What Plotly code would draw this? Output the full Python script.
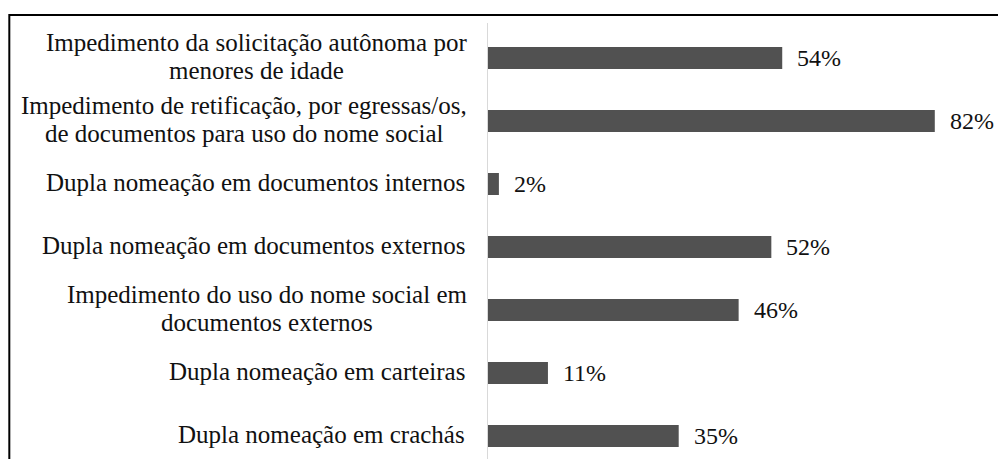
import plotly.graph_objects as go

categories = [
    "Impedimento da solicitação autônoma por<br>menores de idade",
    "Impedimento de retificação, por egressas/os,<br>de documentos para uso do nome social",
    "Dupla nomeação em documentos internos",
    "Dupla nomeação em documentos externos",
    "Impedimento do uso do nome social em<br>documentos externos",
    "Dupla nomeação em carteiras",
    "Dupla nomeação em crachás",
]
values = [54, 82, 2, 52, 46, 11, 35]
value_labels = [f"{v}%" for v in values]

FONT = "Liberation Serif, Times New Roman, serif"
LABEL_SIZE = 25
BAR_COLOR = "#515151"
TEXT_COLOR = "#111111"

# Times / Liberation Serif advance widths (1/1000 em) used to centre wrapped lines
_W = {" ": 250, ",": 250, "/": 278, "%": 833, "I": 333, "D": 722,
      "a": 444, "b": 500, "c": 444, "d": 500, "e": 444, "f": 333, "g": 500,
      "h": 500, "i": 278, "j": 278, "k": 500, "l": 278, "m": 778, "n": 500,
      "o": 500, "p": 500, "q": 500, "r": 333, "s": 389, "t": 278, "u": 500,
      "v": 500, "w": 722, "x": 500, "y": 500, "z": 444,
      "ç": 444, "ã": 444, "â": 444, "á": 444, "é": 444, "ê": 444, "í": 278,
      "ó": 500, "ô": 500, "õ": 500, "ú": 500}


def text_width(s, size):
    return sum(_W.get(c, 500) for c in s) * size / 1000.0


fig = go.Figure()
fig.add_trace(go.Bar(
    x=values, y=categories, orientation="h",
    marker=dict(color=BAR_COLOR, line=dict(width=0)),
    width=0.35, hoverinfo="skip",
))

annotations = []
GAP = 21          # gap between label block and axis
LINE_STEP = 28    # line spacing of wrapped labels
for cat, v, lab in zip(categories, values, value_labels):
    lines = cat.split("<br>")
    n = len(lines)
    widest = max(text_width(l, LABEL_SIZE) for l in lines)
    center_shift = -GAP - widest / 2.0
    for i, ln in enumerate(lines):
        yshift = 2 + ((n - 1) / 2.0 - i) * LINE_STEP
        if n == 1:
            annotations.append(dict(
                x=0, y=cat, xref="x", yref="y", text=ln, showarrow=False,
                xanchor="right", yanchor="middle", xshift=-GAP, yshift=yshift,
                font=dict(family=FONT, size=LABEL_SIZE, color=TEXT_COLOR),
            ))
        else:
            annotations.append(dict(
                x=0, y=cat, xref="x", yref="y", text=ln, showarrow=False,
                xanchor="center", yanchor="middle", xshift=center_shift,
                yshift=yshift,
                font=dict(family=FONT, size=LABEL_SIZE, color=TEXT_COLOR),
            ))
    annotations.append(dict(
        x=v, y=cat, xref="x", yref="y", text=lab, showarrow=False,
        xanchor="left", yanchor="middle", xshift=13, yshift=0,
        font=dict(family=FONT, size=24, color=TEXT_COLOR),
    ))

fig.update_layout(
    width=998, height=459,
    margin=dict(l=488, r=0, t=23, b=0, pad=0),
    paper_bgcolor="white", plot_bgcolor="white",
    showlegend=False,
    xaxis=dict(range=[0, 93.6], visible=False, showgrid=False, zeroline=False),
    yaxis=dict(
        categoryorder="array", categoryarray=categories,
        range=[6.365, -0.5556], showticklabels=False, ticks="",
        showgrid=False, zeroline=False,
        showline=True, linecolor="#d9d9d9", linewidth=1,
    ),
    annotations=annotations,
    shapes=[dict(
        type="rect", xref="paper", yref="paper",
        x0=-0.9386, x1=1.05, y0=-0.1, y1=1.0183,
        line=dict(color="black", width=2), fillcolor="rgba(0,0,0,0)",
        layer="above",
    )],
)

fig.write_html(
    "out.html",
    config={"displayModeBar": False},
    post_script="document.body.style.margin='0px';document.body.style.overflow='hidden';",
)
